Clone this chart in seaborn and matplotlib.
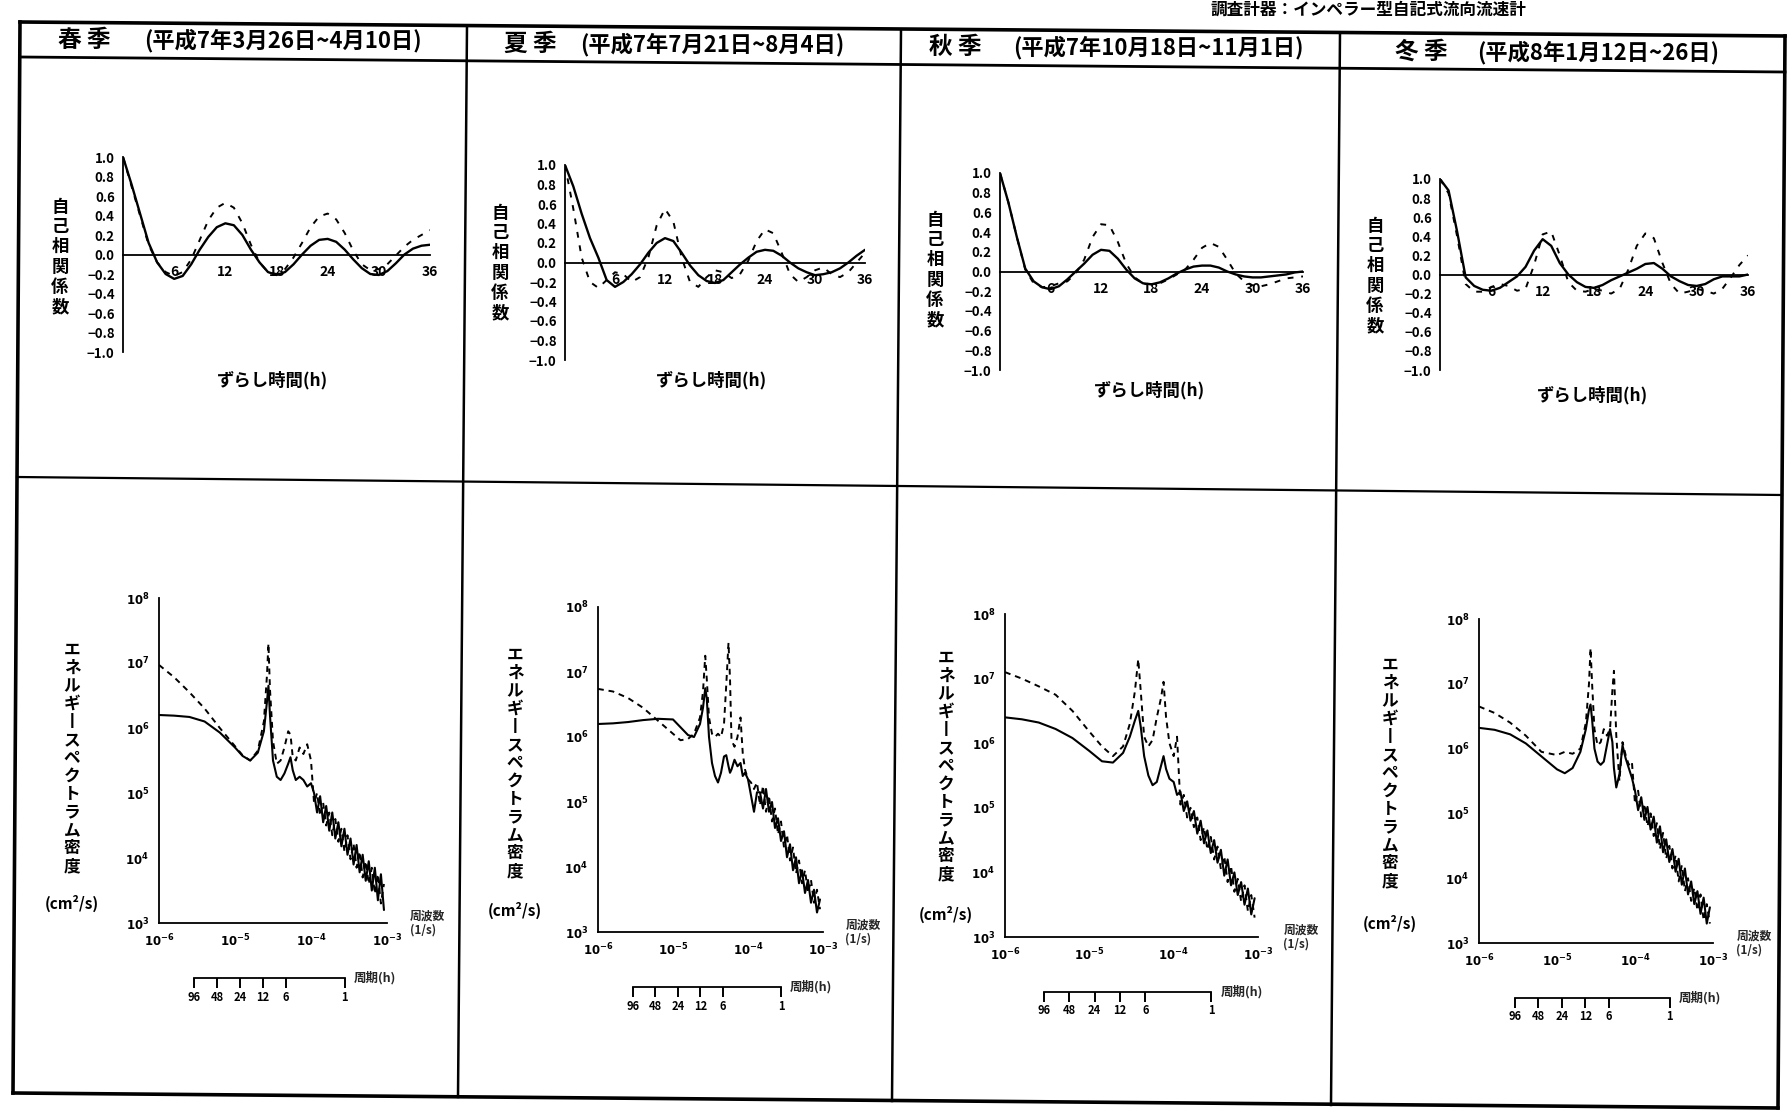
import numpy as np
import matplotlib
matplotlib.use("Agg")
import matplotlib.pyplot as plt
from matplotlib.lines import Line2D
from matplotlib.ticker import FixedLocator, LogLocator, NullFormatter
import seaborn as sns

# ---------------------------------------------------------------- data
SEASONS = ["春 季", "夏 季", "秋 季", "冬 季"]
PERIODS = ["(平成7年3月26日~4月10日)", "(平成7年7月21日~8月4日)",
           "(平成7年10月18日~11月1日)", "(平成8年1月12日~26日)"]
INSTRUMENT = "調査計器：インペラー型自記式流向流速計"

LAG_H = list(range(37))
ACF_TICKS = [6, 12, 18, 24, 30, 36]
ACF_YTICKS = [1.0, 0.8, 0.6, 0.4, 0.2, 0.0, -0.2, -0.4, -0.6, -0.8, -1.0]

SPRING_ACF_SOLID = [1.0, 0.72, 0.42, 0.12, -0.08, -0.2, -0.25, -0.22, -0.1, 0.05, 0.18, 0.28,
                    0.32, 0.3, 0.2, 0.05, -0.08, -0.18, -0.21, -0.18, -0.1, 0.0, 0.09, 0.15,
                    0.16, 0.13, 0.05, -0.05, -0.14, -0.2, -0.21, -0.17, -0.09, 0.0, 0.06, 0.09, 0.1]
SPRING_ACF_DASHED = [1.0, 0.7, 0.4, 0.1, -0.08, -0.18, -0.22, -0.18, -0.05, 0.15, 0.35, 0.48,
                     0.53, 0.48, 0.32, 0.1, -0.08, -0.18, -0.2, -0.15, -0.03, 0.12, 0.28, 0.39,
                     0.42, 0.36, 0.22, 0.04, -0.1, -0.16, -0.15, -0.1, -0.01, 0.08, 0.15, 0.2, 0.25]
SUMMER_ACF_SOLID = [1.0, 0.78, 0.5, 0.25, 0.05, -0.18, -0.25, -0.2, -0.12, -0.02, 0.1, 0.2,
                    0.25, 0.22, 0.1, -0.03, -0.13, -0.19, -0.21, -0.18, -0.1, -0.02, 0.05, 0.11,
                    0.13, 0.12, 0.07, 0.0, -0.06, -0.1, -0.13, -0.12, -0.1, -0.06, 0.0, 0.07, 0.13]
SUMMER_ACF_DASHED = [1.0, 0.55, 0.05, -0.2, -0.26, -0.18, -0.1, -0.12, -0.2, -0.15, 0.05, 0.38,
                     0.55, 0.42, 0.05, -0.2, -0.25, -0.15, -0.08, -0.1, -0.16, -0.12, 0.02, 0.22,
                     0.34, 0.3, 0.1, -0.12, -0.2, -0.15, -0.08, -0.05, -0.12, -0.15, -0.1, 0.0, 0.1]
AUTUMN_ACF_SOLID = [1.0, 0.7, 0.35, 0.03, -0.1, -0.16, -0.18, -0.15, -0.08, 0.0, 0.08, 0.17,
                    0.22, 0.21, 0.13, 0.02, -0.07, -0.12, -0.13, -0.11, -0.07, -0.02, 0.02, 0.05,
                    0.06, 0.06, 0.04, 0.0, -0.03, -0.05, -0.06, -0.06, -0.05, -0.04, -0.03, -0.01, 0.0]
AUTUMN_ACF_DASHED = [1.0, 0.7, 0.35, 0.02, -0.12, -0.16, -0.15, -0.12, -0.1, -0.02, 0.12, 0.35,
                     0.48, 0.47, 0.3, 0.08, -0.06, -0.12, -0.13, -0.12, -0.08, -0.03, 0.02, 0.12,
                     0.24, 0.29, 0.25, 0.12, -0.02, -0.1, -0.14, -0.15, -0.13, -0.1, -0.07, -0.06, -0.05]
WINTER_ACF_SOLID = [1.0, 0.88, 0.45, -0.03, -0.12, -0.16, -0.17, -0.14, -0.08, -0.02, 0.08, 0.25,
                    0.37, 0.3, 0.12, 0.0, -0.08, -0.13, -0.14, -0.11, -0.06, -0.02, 0.02, 0.06,
                    0.11, 0.12, 0.06, -0.02, -0.07, -0.11, -0.12, -0.1, -0.05, -0.02, -0.02, -0.02, 0.0]
WINTER_ACF_DASHED = [1.0, 0.85, 0.4, -0.1, -0.18, -0.18, -0.13, -0.1, -0.12, -0.17, -0.15, 0.1,
                     0.42, 0.45, 0.2, -0.08, -0.17, -0.18, -0.15, -0.17, -0.2, -0.15, 0.05, 0.3,
                     0.43, 0.38, 0.12, -0.1, -0.2, -0.18, -0.15, -0.17, -0.2, -0.15, -0.03, 0.1, 0.2]

# energy spectra: log10 frequency [1/s] and log10 density [cm^2/s]
SPRING_LOGF = [-6.0, -5.8, -5.6, -5.4, -5.2, -5.0, -4.9, -4.8, -4.7, -4.62, -4.58, -4.56, -4.54,
               -4.5, -4.45, -4.4, -4.35, -4.3, -4.27, -4.24, -4.2, -4.15, -4.1, -4.05, -4.0,
               -3.96, -3.92, -3.88, -3.84, -3.80, -3.76, -3.72, -3.68, -3.64, -3.60, -3.56, -3.52,
               -3.48, -3.44, -3.40, -3.36, -3.32, -3.28, -3.24, -3.20, -3.16, -3.12, -3.08, -3.04]
SPRING_SOLID = [6.2, 6.19, 6.17, 6.1, 5.93, 5.7, 5.57, 5.5, 5.62, 5.95, 6.4, 6.65, 6.2,
                5.5, 5.25, 5.2, 5.3, 5.45, 5.55, 5.35, 5.2, 5.25, 5.2, 5.1, 5.15,
                5.0, 4.7, 4.95, 4.55, 4.8, 4.42, 4.7, 4.3, 4.55, 4.18, 4.45, 4.05,
                4.3, 3.9, 4.2, 3.78, 4.05, 3.65, 3.95, 3.5, 3.85, 3.35, 3.75, 3.2]
SPRING_DASHED = [6.97, 6.78, 6.55, 6.3, 6.0, 5.72, 5.58, 5.5, 5.65, 6.1, 6.8, 7.3, 6.6,
                 5.8, 5.45, 5.5, 5.7, 5.95, 5.9, 5.55, 5.5, 5.7, 5.6, 5.75, 5.5,
                 4.85, 5.0, 4.65, 4.85, 4.5, 4.7, 4.35, 4.6, 4.25, 4.45, 4.1, 4.35,
                 3.98, 4.22, 3.85, 4.1, 3.7, 3.95, 3.6, 3.85, 3.45, 3.75, 3.3, 3.6]

SUMMER_LOGF = [-6.0, -5.8, -5.6, -5.4, -5.2, -5.0, -4.9, -4.8, -4.72, -4.64, -4.6, -4.57, -4.55,
               -4.52, -4.48, -4.44, -4.4, -4.36, -4.32, -4.29, -4.26, -4.24, -4.22, -4.18, -4.14,
               -4.1, -4.07, -4.04, -4.0, -3.96, -3.92, -3.88,
               -3.84, -3.80, -3.76, -3.72, -3.68, -3.64, -3.60, -3.56, -3.52, -3.48, -3.44,
               -3.40, -3.36, -3.32, -3.28, -3.24, -3.20, -3.16, -3.12, -3.08, -3.04]
SUMMER_SOLID = [6.2, 6.21, 6.23, 6.26, 6.28, 6.27, 6.15, 6.03, 6.0, 6.2, 6.45, 6.75, 6.6,
                6.0, 5.6, 5.4, 5.3, 5.45, 5.7, 5.72, 5.55, 5.45, 5.5, 5.65, 5.55,
                5.6, 5.4, 5.45, 5.35, 5.1, 4.85, 5.15,
                5.15, 4.9, 5.2, 4.85, 5.0, 4.6, 4.75, 4.4, 4.55, 4.15, 4.35,
                3.95, 4.15, 3.75, 3.95, 3.6, 3.8, 3.45, 3.65, 3.3, 3.5]
SUMMER_DASHED = [6.74, 6.7, 6.6, 6.45, 6.25, 6.05, 5.95, 5.97, 6.05, 6.3, 6.7, 7.25, 6.9,
                 6.3, 6.05, 6.0, 6.05, 6.0, 6.2, 6.8, 7.45, 6.9, 5.95, 5.85, 6.0,
                 6.3, 5.75, 5.5, 5.35, 5.3, 5.2, 5.3,
                 4.95, 5.25, 4.85, 5.1, 4.7, 4.9, 4.5, 4.7, 4.3, 4.5, 4.1,
                 4.3, 3.9, 4.1, 3.75, 3.95, 3.6, 3.8, 3.45, 3.65, 3.35]

AUTUMN_LOGF = [-6.0, -5.8, -5.6, -5.4, -5.2, -5.0, -4.85, -4.72, -4.6, -4.52, -4.46, -4.42,
               -4.39, -4.35, -4.3, -4.25, -4.2, -4.15, -4.12, -4.09, -4.05, -4.0, -3.96,
               -3.92, -3.88, -3.84, -3.80, -3.76, -3.72, -3.68, -3.64, -3.60, -3.56, -3.52,
               -3.48, -3.44, -3.40, -3.36, -3.32, -3.28, -3.24, -3.20, -3.16, -3.12, -3.08, -3.04]
AUTUMN_SOLID = [6.4, 6.37, 6.32, 6.22, 6.08, 5.88, 5.72, 5.7, 5.85, 6.1, 6.35, 6.5,
                6.25, 5.8, 5.5, 5.35, 5.4, 5.65, 5.8, 5.6, 5.45, 5.4, 5.2,
                5.25, 4.95, 5.1, 4.8, 4.95, 4.6, 4.8, 4.45, 4.65, 4.3, 4.5,
                4.15, 4.35, 3.95, 4.2, 3.8, 4.0, 3.65, 3.85, 3.5, 3.75, 3.35, 3.6]
AUTUMN_DASHED = [7.1, 7.0, 6.88, 6.75, 6.5, 6.18, 5.95, 5.8, 5.95, 6.3, 6.8, 7.3,
                 6.8, 6.1, 5.95, 6.05, 6.4, 6.7, 6.95, 6.4, 6.0, 5.8, 6.1,
                 5.05, 5.2, 4.85, 5.0, 4.7, 4.85, 4.5, 4.7, 4.35, 4.55, 4.2,
                 4.4, 4.05, 4.25, 3.85, 4.1, 3.7, 3.9, 3.55, 3.8, 3.4, 3.65, 3.3]

WINTER_LOGF = [-6.0, -5.8, -5.6, -5.4, -5.2, -5.0, -4.9, -4.8, -4.7, -4.63, -4.59, -4.57, -4.55,
               -4.52, -4.48, -4.44, -4.4, -4.36, -4.32, -4.29, -4.27, -4.24, -4.2, -4.16, -4.12,
               -4.08, -4.04,
               -4.00, -3.96, -3.92, -3.88, -3.84, -3.80, -3.76, -3.72, -3.68, -3.64, -3.60, -3.56,
               -3.52, -3.48, -3.44, -3.40, -3.36, -3.32, -3.28, -3.24, -3.20, -3.16, -3.12, -3.08,
               -3.04]
WINTER_SOLID = [6.32, 6.29, 6.22, 6.08, 5.88, 5.68, 5.62, 5.7, 5.95, 6.3, 6.6, 6.68, 6.45,
                6.0, 5.8, 5.75, 5.8, 6.05, 6.3, 6.1, 5.7, 5.4, 5.6, 6.05, 5.85,
                5.7, 5.55,
                5.35, 5.05, 5.25, 4.9, 5.1, 4.75, 4.95, 4.55, 4.8, 4.4, 4.6, 4.25,
                4.45, 4.1, 4.3, 3.9, 4.15, 3.75, 3.95, 3.6, 3.8, 3.45, 3.7, 3.3, 3.55]
WINTER_DASHED = [6.65, 6.55, 6.4, 6.2, 5.95, 5.9, 5.95, 5.92, 6.0, 6.4, 7.0, 7.55, 7.0,
                 6.3, 6.05, 6.1, 6.3, 6.2, 6.3, 6.9, 7.2, 6.2, 5.5, 6.1, 5.9,
                 5.75, 5.8,
                 5.15, 5.35, 4.95, 5.15, 4.8, 5.0, 4.65, 4.85, 4.45, 4.7, 4.3, 4.5,
                 4.15, 4.35, 3.95, 4.2, 3.8, 4.0, 3.65, 3.85, 3.5, 3.75, 3.35, 3.6, 3.3]

FREQ_EXP = [-6, -5, -4, -3]
DENS_EXP = [3, 4, 5, 6, 7, 8]
PERIOD_TICKS_H = [96, 48, 24, 12, 6, 1]

ACF_SERIES = [(SPRING_ACF_SOLID, SPRING_ACF_DASHED), (SUMMER_ACF_SOLID, SUMMER_ACF_DASHED),
              (AUTUMN_ACF_SOLID, AUTUMN_ACF_DASHED), (WINTER_ACF_SOLID, WINTER_ACF_DASHED)]
SPEC_SERIES = [(SPRING_LOGF, SPRING_SOLID, SPRING_DASHED), (SUMMER_LOGF, SUMMER_SOLID, SUMMER_DASHED),
               (AUTUMN_LOGF, AUTUMN_SOLID, AUTUMN_DASHED), (WINTER_LOGF, WINTER_SOLID, WINTER_DASHED)]

# ---------------------------------------------------------------- style
sns.set_theme(style="white")
plt.rcParams["font.family"] = ["Noto Sans CJK JP", "DejaVu Sans"]
plt.rcParams["mathtext.fontset"] = "dejavusans"
plt.rcParams["axes.linewidth"] = 1.3
plt.rcParams["xtick.color"] = "black"
plt.rcParams["ytick.color"] = "black"

W, H = 1791, 1111
fig = plt.figure(figsize=(W / 100, H / 100), dpi=100, facecolor="white")


def fx(x):
    return x / W


def fy(y):
    return 1 - y / H


def add_ax(l, t, r, b):
    return fig.add_axes([fx(l), fy(b), (r - l) / W, (b - t) / H])


def ftext(x, y, s, **kw):
    kw.setdefault("ha", "center")
    kw.setdefault("va", "center")
    kw.setdefault("color", "black")
    return fig.text(fx(x), fy(y), s, **kw)


def fline(x0, y0, x1, y1, lw=2.2):
    fig.add_artist(Line2D([fx(x0), fx(x1)], [fy(y0), fy(y1)],
                          transform=fig.transFigure, color="black", lw=lw,
                          solid_capstyle="projecting"))


# ---------------------------------------------------------------- table frame
fline(20, 22, 1785, 36, 2.6)            # top
fline(13, 1093, 1778, 1108, 2.6)        # bottom
fline(20, 22, 13, 1093, 2.6)            # left
fline(1785, 36, 1778, 1108, 2.6)        # right
fline(20, 57, 1785, 72, 2.0)            # below headers
fline(17, 477, 1782, 495, 1.6)          # between rows
for xt, yt, xb, yb in [(467, 26, 458, 1097), (901, 30, 892, 1101), (1340, 33, 1331, 1105)]:
    fline(xt, yt, xb, yb, 1.8)

ftext(1368, 1, INSTRUMENT, fontsize=12, fontweight="bold", va="top")

season_x = [84, 530, 955, 1421]
date_x = [283, 712, 1158, 1598]
head_y = [40, 44, 47, 52]
for i in range(4):
    ftext(season_x[i], head_y[i], SEASONS[i], fontsize=17, fontweight="bold")
    ftext(date_x[i], head_y[i] + 1, PERIODS[i], fontsize=16, fontweight="bold")

# ---------------------------------------------------------------- autocorrelation row
ACF_BOXES = [(123, 157, 430, 352), (565, 165, 865, 360), (1000, 173, 1303, 370), (1440, 179, 1748, 370)]
ACF_YLAB = [(60, 257), (500, 263), (935, 270), (1375, 276)]
ACF_XLAB = [(273, 380), (712, 380), (1150, 390), (1593, 395)]

for i, (l, t, r, b) in enumerate(ACF_BOXES):
    ax = add_ax(l, t, r, b)
    solid, dashed = ACF_SERIES[i]
    sns.lineplot(x=LAG_H, y=solid, ax=ax, color="black", lw=1.7, estimator=None, sort=False)
    sns.lineplot(x=LAG_H, y=dashed, ax=ax, color="black", lw=1.4, linestyle=(0, (3, 4)),
                 estimator=None, sort=False)
    ax.set_xlim(0, 36)
    ax.set_ylim(-1, 1)
    ax.set_facecolor("none")
    ax.spines["bottom"].set_position(("data", 0))
    ax.spines[["top", "right"]].set_visible(False)
    for s in ax.spines.values():
        s.set_color("black")
    ax.set_xticks(ACF_TICKS)
    ax.set_xticklabels([str(v) for v in ACF_TICKS], fontsize=10, fontweight="bold")
    ax.set_yticks(ACF_YTICKS)
    ax.set_yticklabels([f"{v:.1f}".replace("-", "\u2212") for v in ACF_YTICKS],
                       fontsize=9.5, fontweight="bold")
    ax.tick_params(axis="x", direction="inout", length=13, width=1.3, pad=1)
    ax.tick_params(axis="y", direction="out", length=5, width=1.3, pad=1)
    ax.set_xlabel("")
    ax.set_ylabel("")
    ftext(*ACF_YLAB[i], "\n".join("自己相関係数"), fontsize=12.5, fontweight="bold",
          linespacing=1.15)
    ftext(*ACF_XLAB[i], "ずらし時間(h)", fontsize=12.5, fontweight="bold")

# ---------------------------------------------------------------- spectrum row
SPEC_BOXES = [(159, 598, 387, 923), (598, 607, 823, 932), (1005, 614, 1258, 937), (1479, 619, 1713, 943)]
SPEC_YLAB = [(72, 758, 903), (515, 763, 910), (946, 766, 914), (1390, 773, 923)]
SPEC_LABEL = "\n".join(["エ", "ネ", "ル", "ギ", "丨", "ス", "ペ", "ク", "ト", "ラ", "ム", "密", "度"])


def period_frac(hours):
    # axes fraction of the frequency axis (10^-6 .. 10^-3 1/s) for a period in hours
    return (np.log10(1.0 / (hours * 3600.0)) - FREQ_EXP[0]) / (FREQ_EXP[-1] - FREQ_EXP[0])


for i, (l, t, r, b) in enumerate(SPEC_BOXES):
    ax = add_ax(l, t, r, b)
    ax.set_xscale("log")
    ax.set_yscale("log")
    logf, solid, dashed = SPEC_SERIES[i]
    freq = np.power(10.0, logf)
    sns.lineplot(x=freq, y=np.power(10.0, solid), ax=ax, color="black", lw=1.5,
                 estimator=None, sort=False)
    sns.lineplot(x=freq, y=np.power(10.0, dashed), ax=ax, color="black", lw=1.4,
                 linestyle=(0, (3, 2.5)), estimator=None, sort=False)
    ax.set_xlim(10.0 ** FREQ_EXP[0], 10.0 ** FREQ_EXP[-1])
    ax.set_ylim(10.0 ** DENS_EXP[0], 10.0 ** DENS_EXP[-1])
    ax.set_facecolor("none")
    ax.spines[["top", "right"]].set_visible(False)
    for s in ax.spines.values():
        s.set_color("black")
    ax.xaxis.set_major_locator(FixedLocator([10.0 ** e for e in FREQ_EXP]))
    ax.set_xticklabels([rf"$\mathbf{{10^{{{e}}}}}$" for e in FREQ_EXP], fontsize=8.5)
    ax.xaxis.set_minor_locator(LogLocator(base=10, subs=np.arange(2, 10), numticks=20))
    ax.xaxis.set_minor_formatter(NullFormatter())
    ax.yaxis.set_major_locator(FixedLocator([10.0 ** e for e in DENS_EXP]))
    ax.set_yticklabels([rf"$\mathbf{{10^{{{e}}}}}$" for e in DENS_EXP], fontsize=8.5)
    ax.yaxis.set_minor_locator(LogLocator(base=10, subs=np.arange(2, 10), numticks=20))
    ax.yaxis.set_minor_formatter(NullFormatter())
    ax.tick_params(which="major", direction="out", length=5, width=1.3, pad=2)
    ax.tick_params(which="minor", direction="in", length=3, width=0.9)
    ax.set_xlabel("")
    ax.set_ylabel("")
    ax.text(1.1, 0.0, "周波数\n(1/s)", transform=ax.transAxes, ha="left", va="center",
            fontsize=8.5, fontweight="bold", linespacing=1.1)

    # period scale underneath the frequency axis
    p0, p1 = period_frac(PERIOD_TICKS_H[0]), period_frac(PERIOD_TICKS_H[-1])
    ax_h = b - t
    pax = ax.inset_axes([p0, -55.0 / ax_h, p1 - p0, 0.002])
    pax.set_xscale("log")
    pax.set_xlim(PERIOD_TICKS_H[0], PERIOD_TICKS_H[-1])
    pax.set_facecolor("none")
    for side in ["top", "left", "right"]:
        pax.spines[side].set_visible(False)
    pax.spines["bottom"].set_color("black")
    pax.spines["bottom"].set_linewidth(1.3)
    pax.set_yticks([])
    pax.xaxis.set_major_locator(FixedLocator(PERIOD_TICKS_H))
    pax.xaxis.set_minor_locator(FixedLocator([]))
    pax.set_xticklabels([str(h) for h in PERIOD_TICKS_H], fontsize=8, fontweight="bold")
    pax.tick_params(axis="x", which="major", direction="out", length=7, width=1.4, pad=2,
                    bottom=True, color="black")
    pax.text(1.06, 0.0, "周期(h)", transform=pax.transAxes, ha="left", va="center",
             fontsize=9, fontweight="bold")

    x_lab, y_mid, y_unit = SPEC_YLAB[i]
    ftext(x_lab, y_mid, SPEC_LABEL, fontsize=12, fontweight="bold", linespacing=1.0)
    ftext(x_lab, y_unit, "(cm²/s)", fontsize=11, fontweight="bold")

fig.savefig("out.png", dpi=100, facecolor="white")
